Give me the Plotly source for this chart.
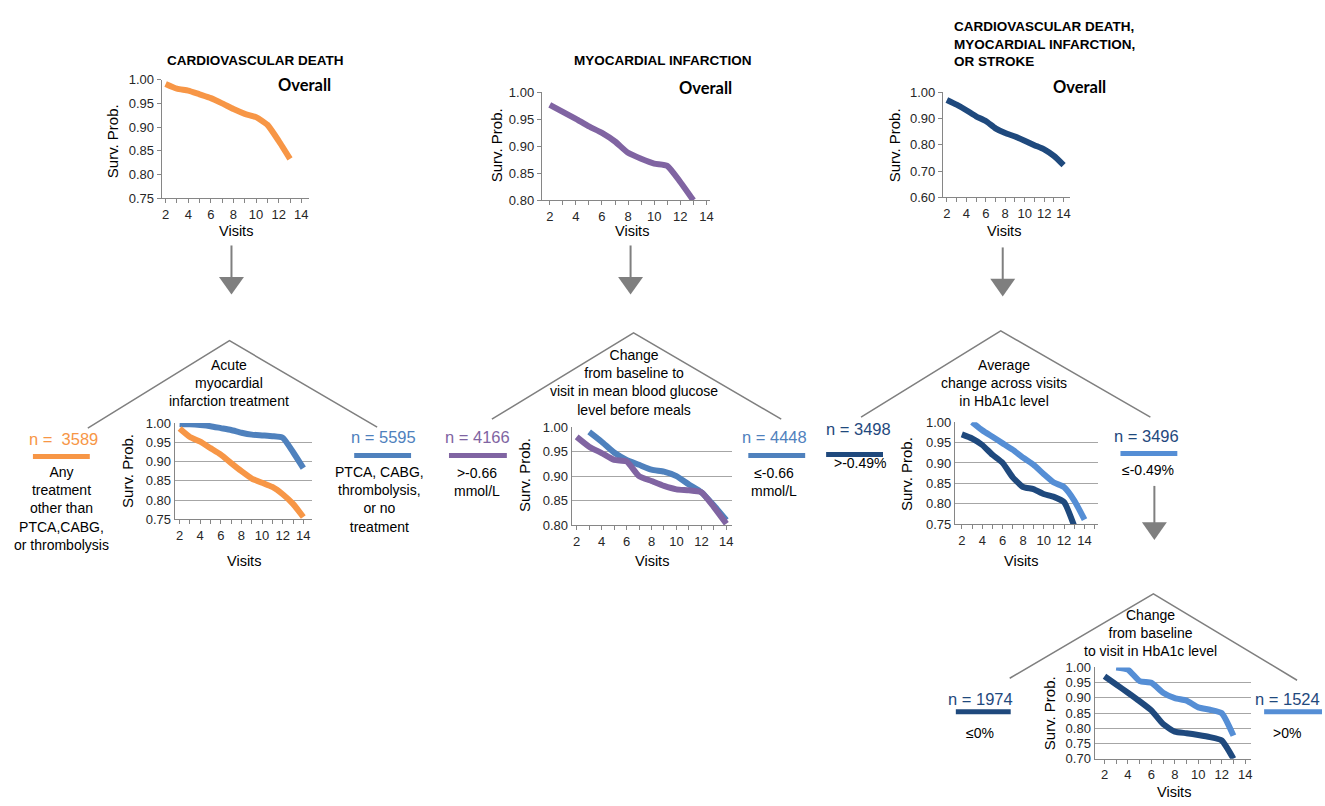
import plotly.graph_objects as go

# ---------------- data ----------------
cvd_visits = [2, 3, 4, 5, 6, 7, 8, 9, 10, 11, 12, 13]
cvd_overall = [0.991, 0.981, 0.977, 0.969, 0.961, 0.950, 0.938, 0.928, 0.921, 0.905, 0.871, 0.833]

mi_visits = [2, 3, 4, 5, 6, 7, 8, 9, 10, 11, 12, 13]
mi_overall = [0.977, 0.964, 0.951, 0.937, 0.925, 0.909, 0.888, 0.877, 0.868, 0.864, 0.834, 0.800]

mace_visits = [2, 3, 4, 5, 6, 7, 8, 9, 10, 11, 12, 13, 14]
mace_overall = [0.971, 0.953, 0.932, 0.909, 0.891, 0.863, 0.845, 0.832, 0.816, 0.799, 0.783, 0.758, 0.723]

ami_visits = [2, 3, 4, 5, 6, 7, 8, 9, 10, 11, 12, 13, 14]
ami_other = [0.986, 0.964, 0.952, 0.935, 0.918, 0.896, 0.875, 0.856, 0.845, 0.834, 0.815, 0.790, 0.756]
ami_ptca = [0.998, 0.997, 0.995, 0.992, 0.987, 0.982, 0.975, 0.970, 0.968, 0.966, 0.962, 0.925, 0.883]

glu_gt_visits = [2, 3, 4, 5, 6, 7, 8, 9, 10, 11, 12, 13, 14]
glu_gt = [0.980, 0.960, 0.947, 0.933, 0.930, 0.900, 0.890, 0.880, 0.873, 0.871, 0.867, 0.837, 0.803]
glu_le_visits = [3, 4, 5, 6, 7, 8, 9, 10, 11, 12, 13, 14]
glu_le = [0.990, 0.970, 0.948, 0.933, 0.923, 0.913, 0.909, 0.900, 0.883, 0.867, 0.840, 0.810]

hba_gt_visits = [2, 3, 4, 5, 6, 7, 8, 9, 10, 11, 12, 13]
hba_gt = [0.970, 0.960, 0.944, 0.920, 0.900, 0.864, 0.841, 0.836, 0.824, 0.817, 0.804, 0.745]
hba_le_visits = [3, 4, 5, 6, 7, 8, 9, 10, 11, 12, 13, 14]
hba_le = [1.000, 0.980, 0.964, 0.948, 0.932, 0.913, 0.896, 0.873, 0.852, 0.841, 0.808, 0.761]

chg_le_visits = [2, 3, 4, 5, 6, 7, 8, 9, 10, 11, 12, 13]
chg_le = [0.971, 0.944, 0.917, 0.889, 0.859, 0.814, 0.789, 0.784, 0.778, 0.771, 0.760, 0.700]
chg_gt_visits = [3, 4, 5, 6, 7, 8, 9, 10, 11, 12, 13]
chg_gt = [1.000, 0.993, 0.955, 0.950, 0.917, 0.899, 0.891, 0.869, 0.861, 0.850, 0.776]

x_ticks = [2, 4, 6, 8, 10, 12, 14]

# ---------------- style ----------------
W, H = 1325, 806
ORANGE = "#F79646"
PURPLE = "#8064A2"
BLUE = "#4F81BD"
NAVY = "#1F497D"
LBLUE = "#558ED5"
GRAY = "#7F7F7F"
FONT = "Liberation Sans, Arial, sans-serif"


def pxx(x):
    return x / W


def pxy(y):
    return 1 - y / H


fig = go.Figure()

# chart specs: (L, R, px of visit 2, px of visit 14, ytop px, ybot px, yrange, dtick, grid)
charts = [
    (162, 310, 166, 302, 74, 195, [0.75, 1.0], 0.05, False),
    (543, 712, 551, 708, 87, 197, [0.80, 1.0], 0.05, False),
    (945, 1072, 949, 1066, 87, 194, [0.60, 1.0], 0.10, False),
    (175, 313, 180, 304, 424, 522, [0.75, 1.0], 0.05, True),
    (573, 734, 578, 728, 428, 528, [0.80, 1.0], 0.05, True),
    (957, 1100, 964, 1087, 423, 527, [0.75, 1.0], 0.05, True),
    (1097, 1254, 1107, 1248, 673, 766, [0.70, 1.0], 0.05, True),
]

series = [
    (0, cvd_visits, cvd_overall, ORANGE),
    (1, mi_visits, mi_overall, PURPLE),
    (2, mace_visits, mace_overall, NAVY),
    (3, ami_visits, ami_ptca, BLUE),
    (3, ami_visits, ami_other, ORANGE),
    (4, glu_le_visits, glu_le, BLUE),
    (4, glu_gt_visits, glu_gt, PURPLE),
    (5, hba_le_visits, hba_le, LBLUE),
    (5, hba_gt_visits, hba_gt, NAVY),
    (6, chg_gt_visits, chg_gt, LBLUE),
    (6, chg_le_visits, chg_le, NAVY),
]

for idx, xs, ys, col in series:
    sfx = "" if idx == 0 else str(idx + 1)
    fig.add_trace(go.Scatter(
        x=xs, y=ys, mode="lines", xaxis="x" + sfx, yaxis="y" + sfx,
        line=dict(color=col, width=6, shape="spline", smoothing=0.5),
        showlegend=False, hoverinfo="skip"))

layout_axes = {}
for i, (L, R, p2, p14, yt, yb, yr, dt, grid) in enumerate(charts):
    sfx = "" if i == 0 else str(i + 1)
    unit = (p14 - p2) / 12.0
    xr = [2 + (L - p2) / unit, 2 + (R - p2) / unit]
    layout_axes["xaxis" + sfx] = dict(
        domain=[pxx(L), pxx(R)], range=xr, anchor="y" + sfx,
        tickvals=x_ticks, ticks="outside", ticklen=4, tickcolor="#868686",
        minor=dict(dtick=1, tick0=2, ticks="outside", ticklen=4, tickcolor="#868686"),
        showline=True, linecolor="#868686", linewidth=1, showgrid=False, zeroline=False,
        tickfont=dict(family=FONT, size=13, color="#262626"), fixedrange=True)
    layout_axes["yaxis" + sfx] = dict(
        domain=[pxy(yb), pxy(yt)], range=yr, anchor="x" + sfx,
        dtick=dt, tick0=yr[0], tickformat=".2f",
        ticks="outside", ticklen=4 if not grid else 0, tickcolor="#868686",
        showline=True, linecolor="#868686", linewidth=1,
        showgrid=grid, gridcolor="#A6A6A6", gridwidth=1.2, zeroline=False,
        tickfont=dict(family=FONT, size=13, color="#262626"), fixedrange=True)

shapes = []
annotations = []


def ann(text, x, y, size=14, color="#000000", bold=False, angle=0, family=FONT,
        xanchor="center", align="center"):
    if bold:
        text = "<b>" + text.replace("<br>", "</b><br><b>") + "</b>"
    annotations.append(dict(
        text=text, x=pxx(x), y=pxy(y), xref="paper", yref="paper",
        xanchor=xanchor, yanchor="middle", showarrow=False, textangle=angle,
        align=align, font=dict(family=family, size=size, color=color)))


# axis titles
axis_titles = [
    ((113, 137), (237, 228)),
    ((498, 141), (633, 228)),
    ((896, 141), (1006, 228)),
    ((127, 473), (245, 565)),
    ((525, 477), (653, 565)),
    ((908, 476), (1023, 565)),
    ((1052, 720), (1177, 800)),
]
for (sx, sy), (vx, vy) in axis_titles:
    ann("Surv. Prob.", sx, sy, size=15, angle=-90)
    ann("Visits", vx, vy, size=14.5)

# headings
ann("CARDIOVASCULAR DEATH", 256, 55, size=13.5, bold=True)
ann("MYOCARDIAL INFARCTION", 665, 55, size=13.5, bold=True)
ann("CARDIOVASCULAR DEATH,<br>MYOCARDIAL INFARCTION,<br>OR STROKE", 954, 38,
    size=13.5, bold=True, xanchor="left", align="left")

for ox, oy in [(305, 79), (707, 83), (1082, 82)]:
    ann("Overall", ox, oy, size=16.5, bold=True, family="Lato, Liberation Sans, sans-serif")

# split labels
ann("Acute<br>myocardial<br>infarction treatment", 230, 383, size=14)
ann("Change<br>from baseline to<br>visit in mean blood glucose<br>level before meals", 635, 383, size=14)
ann("Average<br>change across visits<br>in HbA1c level", 1006, 383, size=14)
ann("Change<br>from baseline<br>to visit in HbA1c level", 1153, 638, size=14)

ann("n =  3589", 64, 440, size=16.5, color=ORANGE)
ann("Any<br>treatment<br>other than<br>PTCA,CABG,<br>or thrombolysis", 62, 511, size=14)
ann("n = 5595", 384, 438, size=16.5, color=BLUE)
ann("PTCA, CABG,<br>thrombolysis,<br>or no<br>treatment", 380, 502, size=14)

ann("n = 4166", 479, 438, size=16.5, color=PURPLE)
ann(">-0.66<br>mmol/L", 478, 484, size=14)
ann("n = 4448", 776, 438, size=16.5, color=BLUE)
ann("≤-0.66<br>mmol/L", 776, 484, size=14)

ann("n = 3498", 860, 430, size=16.5, color=NAVY)
ann(">-0.49%", 862, 465, size=14)
ann("n = 3496", 1149, 437, size=16.5, color=NAVY)
ann("≤-0.49%", 1151, 472, size=14)

ann("n = 1974", 983, 705, size=16.5, color=NAVY)
ann("≤0%", 982, 740, size=14)
ann("n = 1524", 1290, 705, size=16.5, color=NAVY)
ann(">0%", 1290, 740, size=14)

# legend bars
for x0, x1, y, col in [(33, 90, 458, ORANGE), (355, 412, 457, BLUE),
                       (450, 508, 457, PURPLE), (750, 807, 457, BLUE),
                       (828, 885, 456, NAVY), (1123, 1180, 455, LBLUE),
                       (958, 1013, 718, NAVY), (1267, 1325, 718, LBLUE)]:
    shapes.append(dict(type="line", xref="paper", yref="paper",
                       x0=pxx(x0), x1=pxx(x1), y0=pxy(y), y1=pxy(y),
                       line=dict(color=col, width=5)))

# roofs
for lx, ly, tx, ty, rx, ry in [(88, 429, 230, 340, 378, 428),
                               (493, 420, 635, 332, 783, 420),
                               (863, 418, 1003, 330, 1153, 418),
                               (1012, 684, 1156, 598, 1300, 686)]:
    path = "M {} {} L {} {} L {} {}".format(pxx(lx), pxy(ly), pxx(tx), pxy(ty), pxx(rx), pxy(ry))
    shapes.append(dict(type="path", xref="paper", yref="paper", path=path,
                       line=dict(color=GRAY, width=1.5)))

# arrows
for ax, y0, y1, y2 in [(232, 243, 275, 293), (632, 243, 275, 293),
                       (1005, 245, 277, 295), (1157, 488, 525, 543)]:
    shapes.append(dict(type="line", xref="paper", yref="paper",
                       x0=pxx(ax), x1=pxx(ax), y0=pxy(y0), y1=pxy(y1 + 1),
                       line=dict(color=GRAY, width=2)))
    path = "M {} {} L {} {} L {} {} Z".format(pxx(ax - 12.5), pxy(y1), pxx(ax + 12.5), pxy(y1),
                                               pxx(ax), pxy(y2))
    shapes.append(dict(type="path", xref="paper", yref="paper", path=path,
                       fillcolor=GRAY, line=dict(color=GRAY, width=0)))

fig.update_layout(
    width=W, height=H, margin=dict(l=0, r=0, t=0, b=0),
    paper_bgcolor="white", plot_bgcolor="rgba(0,0,0,0)",
    shapes=shapes, annotations=annotations,
    font=dict(family=FONT), **layout_axes)

fig.write_html("out.html", config={"displayModeBar": False},
               post_script="document.body.style.margin='0';document.body.style.overflow='hidden';")
